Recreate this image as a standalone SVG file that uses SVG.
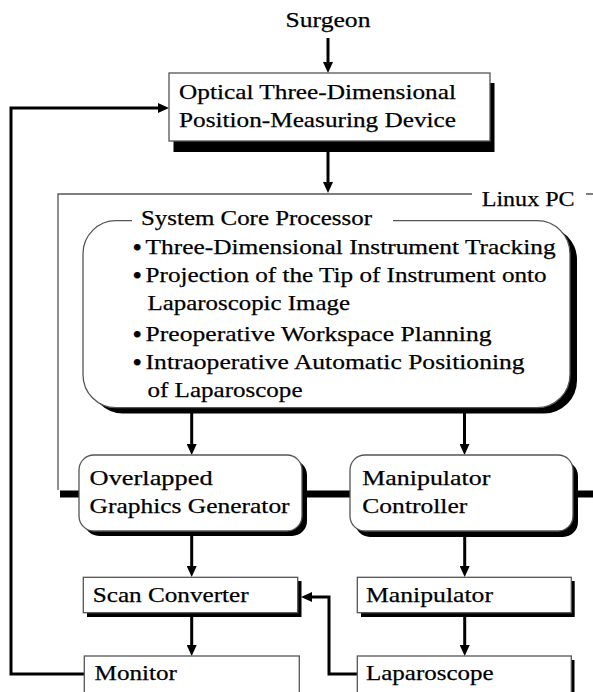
<svg xmlns="http://www.w3.org/2000/svg" width="593" height="692" viewBox="0 0 593 692">
<style>
  text { font-family: "Liberation Serif", "Times New Roman", serif; font-size: 22px; fill: #000; stroke: #000; stroke-width: 0.25; }
  .bullet { font-size: 24px; font-weight: bold; }
  .box { fill: #fff; stroke: #555; stroke-width: 1.3; }
  .shadow { fill: #000; }
  .thin { fill: none; stroke: #555; stroke-width: 1.3; }
  .conn { fill: none; stroke: #000; stroke-width: 3; }
  .bus { fill: none; stroke: #000; stroke-width: 7; }
</style>
<defs>
  <marker id="arrow" viewBox="0 0 11 10" refX="3" refY="5" markerWidth="11" markerHeight="10" markerUnits="userSpaceOnUse" orient="auto">
    <path d="M0,0 L11,5 L0,10 Z" fill="#000"/>
  </marker>
</defs>
<rect width="593" height="692" fill="#fff"/>

<g id="linux-pc">
  <path class="thin" d="M58,490 V194 H472 M586,194 H593"/>
  <line class="bus" x1="60" y1="494" x2="593" y2="494"/>
  <text x="481.7" y="206" textLength="93" lengthAdjust="spacingAndGlyphs">Linux PC</text>
</g>

<g id="connectors">
  <path class="conn" d="M328,38 V65" marker-end="url(#arrow)"/>
  <path class="conn" d="M328,152 V185" marker-end="url(#arrow)"/>
  <path class="conn" d="M84,674 H11 V108 H161" marker-end="url(#arrow)"/>
  <path class="conn" d="M191.7,412 V447" marker-end="url(#arrow)"/>
  <path class="conn" d="M464.5,412 V447" marker-end="url(#arrow)"/>
  <path class="conn" d="M191.7,535 V569" marker-end="url(#arrow)"/>
  <path class="conn" d="M191.7,617 V648" marker-end="url(#arrow)"/>
  <path class="conn" d="M464.7,537 V569" marker-end="url(#arrow)"/>
  <path class="conn" d="M464.7,617 V648" marker-end="url(#arrow)"/>
  <path class="conn" d="M357,674 H329 V597 H309" marker-end="url(#arrow)"/>
</g>

<g id="surgeon">
  <text x="285.5" y="27" textLength="85" lengthAdjust="spacingAndGlyphs">Surgeon</text>
</g>

<g id="optical-device">
  <rect class="shadow" x="173.5" y="83" width="321" height="69"/>
  <rect class="box" x="169" y="73" width="321" height="68"/>
  <text x="179" y="99" textLength="277" lengthAdjust="spacingAndGlyphs">Optical Three-Dimensional</text>
  <text x="179" y="127" textLength="277" lengthAdjust="spacingAndGlyphs">Position-Measuring Device</text>
</g>

<g id="system-core-processor">
  <rect class="shadow" x="90" y="226.5" width="487" height="187" rx="33" ry="33"/>
  <rect x="83" y="220.7" width="487" height="187" rx="33" ry="33" fill="#fff" stroke="none"/>
  <path class="thin" d="M132,220.7 H116 A33,33 0 0 0 83,253.7 V374.7 A33,33 0 0 0 116,407.7 H537 A33,33 0 0 0 570,374.7 V253.7 A33,33 0 0 0 537,220.7 H393"/>
  <text x="141" y="225" textLength="231" lengthAdjust="spacingAndGlyphs">System Core Processor</text>
  <text x="133" y="255"><tspan class="bullet">•</tspan><tspan x="145.6" y="254" textLength="410" lengthAdjust="spacingAndGlyphs">Three-Dimensional Instrument Tracking</tspan></text>
  <text x="133" y="283"><tspan class="bullet">•</tspan><tspan x="145.6" y="282" textLength="401" lengthAdjust="spacingAndGlyphs">Projection of the Tip of Instrument onto</tspan></text>
  <text x="147.5" y="310" textLength="202.5" lengthAdjust="spacingAndGlyphs">Laparoscopic Image</text>
  <text x="133" y="342"><tspan class="bullet">•</tspan><tspan x="145.6" y="341" textLength="346" lengthAdjust="spacingAndGlyphs">Preoperative Workspace Planning</tspan></text>
  <text x="133" y="370"><tspan class="bullet">•</tspan><tspan x="145.6" y="369" textLength="379" lengthAdjust="spacingAndGlyphs">Intraoperative Automatic Positioning</tspan></text>
  <text x="147.5" y="397" textLength="155" lengthAdjust="spacingAndGlyphs">of Laparoscope</text>
</g>

<g id="overlapped-graphics-generator">
  <rect class="shadow" x="84" y="460" width="223" height="76" rx="15" ry="15"/>
  <rect class="box" x="79" y="455" width="223" height="76" rx="15" ry="15"/>
  <text x="89.6" y="485" textLength="123" lengthAdjust="spacingAndGlyphs">Overlapped</text>
  <text x="89.6" y="513" textLength="200" lengthAdjust="spacingAndGlyphs">Graphics Generator</text>
</g>

<g id="manipulator-controller">
  <rect class="shadow" x="355" y="461" width="223" height="76" rx="15" ry="15"/>
  <rect class="box" x="350" y="455" width="223" height="76" rx="15" ry="15"/>
  <text x="362.3" y="485" textLength="128" lengthAdjust="spacingAndGlyphs">Manipulator</text>
  <text x="362.3" y="513" textLength="105" lengthAdjust="spacingAndGlyphs">Controller</text>
</g>

<g id="scan-converter">
  <rect class="shadow" x="87" y="581" width="214.5" height="36"/>
  <rect class="box" x="83.3" y="577.3" width="214.4" height="35.4"/>
  <text x="92.7" y="602" textLength="156" lengthAdjust="spacingAndGlyphs">Scan Converter</text>
</g>

<g id="manipulator">
  <rect class="shadow" x="361" y="581" width="213.7" height="36"/>
  <rect class="box" x="357.3" y="577.3" width="214" height="35.4"/>
  <text x="366" y="602" textLength="127" lengthAdjust="spacingAndGlyphs">Manipulator</text>
</g>

<g id="monitor">
  <rect class="box" x="84.3" y="656" width="215" height="45"/>
  <text x="94.6" y="680" textLength="82.4" lengthAdjust="spacingAndGlyphs">Monitor</text>
</g>

<g id="laparoscope">
  <rect class="shadow" x="361" y="660" width="213.5" height="45"/>
  <rect class="box" x="357.3" y="656" width="214" height="45"/>
  <text x="366" y="680" textLength="127.6" lengthAdjust="spacingAndGlyphs">Laparoscope</text>
</g>
</svg>
